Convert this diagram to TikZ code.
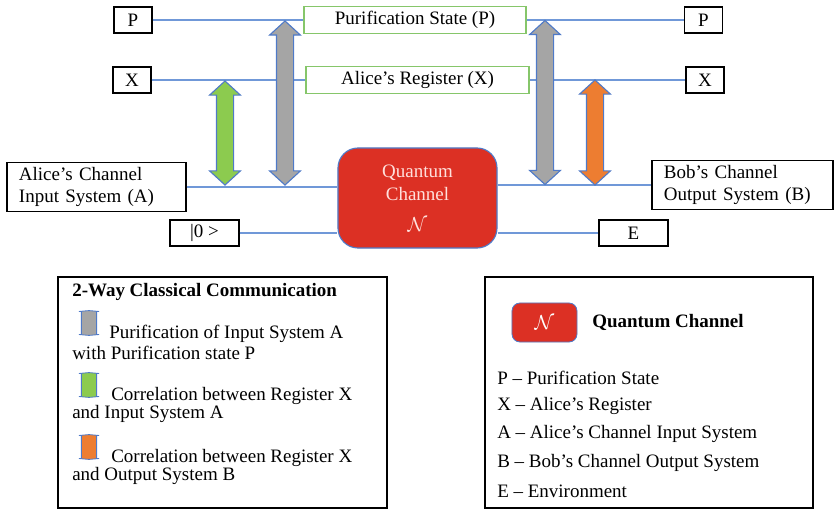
\documentclass[tikz,border=0pt]{standalone}
\usepackage{fontspec}
\setmainfont{Liberation Serif}
\usetikzlibrary{shapes.arrows}

\definecolor{wireblue}{HTML}{7098D8}
\definecolor{arrowedge}{HTML}{4F7AC8}
\definecolor{greenfill}{HTML}{8CCB4F}
\definecolor{orangefill}{HTML}{ED7D31}
\definecolor{grayfill}{HTML}{A5A5A5}
\definecolor{chanred}{HTML}{DC3024}
\definecolor{boxgreen}{HTML}{86C66A}
\definecolor{chantext}{HTML}{FFE0DC}

\begin{document}
\begin{tikzpicture}[x=0.025cm, y=-0.025cm,
  every node/.style={font=\fontsize{13.5pt}{16pt}\selectfont},
  wire/.style={draw=wireblue, line width=0.8pt},
  labelbox/.style={draw=black, line width=1pt, fill=white, minimum width=0.95cm, minimum height=0.65cm, inner sep=0pt},
  greenbox/.style={draw=boxgreen, line width=1pt, fill=white, minimum height=0.68cm, inner sep=0pt},
  sysbox/.style={draw=black, line width=1pt, fill=white, minimum height=1.2cm, inner xsep=0.3cm, align=left},
  blockarrow/.style={shape=double arrow, rotate=90, draw=arrowedge, line width=0.8pt, double arrow head extend=0.17cm, double arrow tip angle=95, inner xsep=0pt, inner ysep=0.2cm},
  iconarrow/.style={shape=double arrow, rotate=90, draw=arrowedge, line width=0.6pt, minimum height=0.62cm, double arrow head extend=0.06cm, double arrow tip angle=170, inner xsep=0pt, inner ysep=0.18cm},
  legendbox/.style={draw=black, line width=0.8pt, minimum width=8.2cm, minimum height=5.775cm, inner sep=0pt},
  entry/.style={anchor=west, inner sep=0pt}]

\useasboundingbox (0,0) rectangle (835,510);

% registers and systems
\node[labelbox] (pL) at (133,20) {P};
\node[labelbox] (xL) at (132,80) {X};
\node[greenbox, minimum width=5.55cm] (ps) at (415,20) {Purification State (P)};
\node[greenbox, minimum width=5.575cm] (ar) at (417.5,80) {Alice’s Register (X)};
\node[labelbox] (pR) at (703.5,20) {P};
\node[labelbox] (xR) at (705,80) {X};
\node[sysbox, text width=3.875cm] (ain) at (96.5,187) {Alice’s Channel\\Input System (A)};
\node[labelbox, minimum width=1.725cm] (zero) at (204.5,233) {|0 >};
\node[draw=arrowedge, line width=0.8pt, fill=chanred, rounded corners=0.5cm, minimum width=3.975cm, minimum height=2.5cm, text=chantext, align=center] (qc) at (417.5,198) {Quantum\\Channel\\[6pt]$\mathcal{N}$};
\node[sysbox, text width=3.925cm] (bout) at (742.5,185) {Bob’s Channel\\Output System (B)};
\node[labelbox, minimum width=1.725cm] (env) at (633.5,233) {E};

% wires
\draw[wire] (pL.east) -- (ps.west);
\draw[wire] (ps.east) -- (pR.west);
\draw[wire] (xL.east) -- (ar.west);
\draw[wire] (ar.east) -- (xR.west);
\draw[wire] (ain.east) -- (ain.east -| qc.west);
\draw[wire] (qc.east |- bout.west) -- (bout.west);
\draw[wire] (zero.east) -- (zero.east -| qc.west);
\draw[wire] (qc.east |- env.west) -- (env.west);

% classical communication
\node[blockarrow, fill=greenfill, minimum height=2.6cm] (corrA) at (225,133) {};
\node[blockarrow, fill=grayfill, minimum height=4.1cm] (purL) at (285,103) {};
\node[blockarrow, fill=grayfill, minimum height=4.1cm] (purR) at (545,102.5) {};
\node[blockarrow, fill=orangefill, minimum height=2.625cm] (corrB) at (595,132.5) {};

% legend: communication
\node[legendbox, minimum width=8.225cm] (legA) at (222.5,392.5) {};
\node[entry, font=\fontsize{13.5pt}{16pt}\selectfont\bfseries] (legAt) at (72,292) {2-Way Classical Communication};
\node[iconarrow, fill=grayfill] (iconP) at (89,323) {};
\node[entry] (legA1) at (109,334) {Purification of Input System A};
\node[entry] (legA1b) at (72,353) {with Purification state P};
\node[iconarrow, fill=greenfill] (iconG) at (89,385) {};
\node[entry] (legA2) at (111,396) {Correlation between Register X};
\node[entry] (legA2b) at (72,414) {and Input System A};
\node[iconarrow, fill=orangefill] (iconO) at (89,447) {};
\node[entry] (legA3) at (111,458) {Correlation between Register X};
\node[entry] (legA3b) at (72,476) {and Output System B};

% legend: symbols
\node[legendbox] (legB) at (649,392.5) {};
\node[draw=arrowedge, line width=0.6pt, fill=chanred, rounded corners=0.2cm, minimum width=1.625cm, minimum height=0.975cm, text=white] (qcicon) at (544.5,322.5) {$\mathcal{N}$};
\node[entry, font=\fontsize{13.5pt}{16pt}\selectfont\bfseries] (legBt) at (592,322) {Quantum Channel};
\node[entry] (legB1) at (497,378) {P – Purification State};
\node[entry] (legB2) at (497,406) {X – Alice’s Register};
\node[entry] (legB3) at (497,434) {A – Alice’s Channel Input System};
\node[entry] (legB4) at (497,463) {B – Bob’s Channel Output System};
\node[entry] (legB5) at (497,491) {E – Environment};
\end{tikzpicture}
\end{document}
